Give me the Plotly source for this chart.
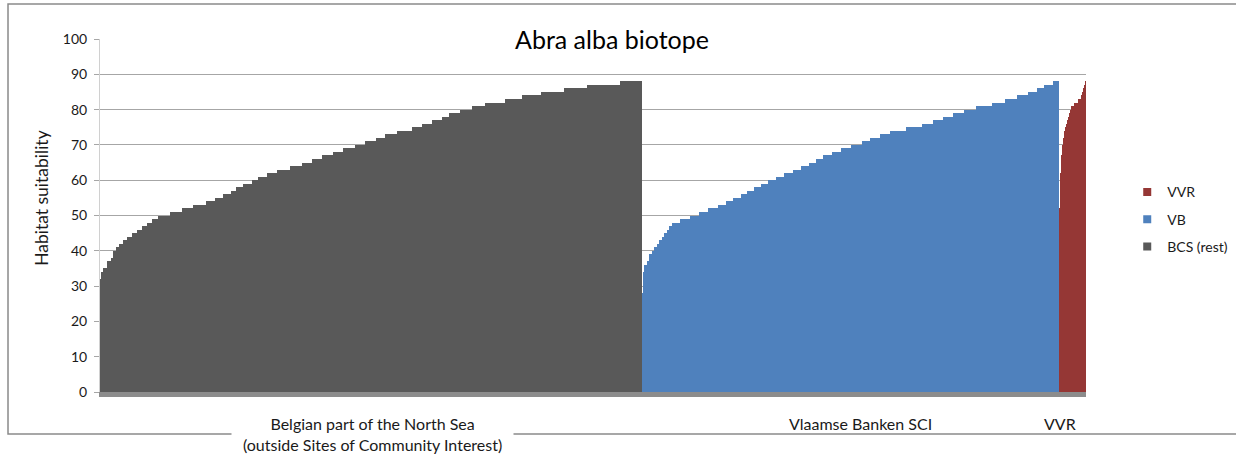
import numpy as np
import plotly.graph_objects as go

# ---- data: sorted habitat suitability values, run-length encoded (value, number of cells)
bcs_values = [32, 34, 35, 37, 38, 40, 41, 42, 43, 44, 45, 46, 47, 48, 49, 50, 51, 52, 53, 54,
              55, 56, 57, 58, 59, 60, 61, 62, 63, 64, 65, 66, 67, 68, 69, 70, 71, 72, 73, 74,
              75, 76, 77, 78, 79, 80, 81, 82, 83, 84, 85, 86, 87, 88]
bcs_counts = [1, 2, 4, 4, 2, 3, 3, 4, 4, 5, 5, 5, 5, 5, 6, 12, 12, 11, 13, 9,
              8, 8, 5, 7, 9, 6, 9, 10, 13, 12, 10, 10, 11, 10, 12, 10, 11, 9, 12, 15,
              10, 10, 10, 7, 11, 12, 13, 20, 17, 19, 23, 23, 33, 22]

vb_values = [28, 34, 36, 37, 39, 40, 41, 42, 43, 44, 45, 46, 47, 48, 49, 50, 51, 52, 53, 54,
             55, 56, 57, 58, 59, 60, 61, 62, 63, 64, 65, 66, 67, 68, 69, 70, 71, 72, 73, 74,
             75, 76, 77, 78, 79, 80, 81, 82, 83, 84, 85, 86, 87, 88]
vb_counts = [1, 1, 3, 2, 3, 2, 3, 2, 3, 2, 3, 2, 3, 8, 10, 9, 9, 10, 8, 7,
             8, 6, 7, 7, 7, 8, 8, 9, 8, 8, 7, 7, 9, 9, 10, 11, 8, 10, 10, 16,
             16, 11, 10, 10, 11, 12, 16, 13, 12, 11, 9, 7, 9, 6]

vvr_values = [52, 62, 67, 70, 72, 74, 75, 76, 77, 78, 79, 80, 81, 81, 81, 82, 82, 82, 82,
              83, 83, 83, 84, 85, 86, 87, 88]
vvr_counts = [1] * len(vvr_values)

series_names = ["BCS (rest)", "VB", "VVR"]
series_colors = ["#595959", "#4f81bd", "#953735"]
category_labels = ["Belgian part of the North Sea<br>(outside Sites of Community Interest)",
                   "Vlaamse Banken SCI", "VVR"]
y_ticks = [0, 10, 20, 30, 40, 50, 60, 70, 80, 90, 100]

FONT = "Lato"
TXT = "#1a1a1a"

fig = go.Figure()
offset = 0
for vals, cnts, name, col in zip([bcs_values, vb_values, vvr_values],
                                 [bcs_counts, vb_counts, vvr_counts],
                                 series_names, series_colors):
    cnts = np.array(cnts, dtype=float)
    lefts = offset + np.concatenate([[0], np.cumsum(cnts)[:-1]])
    fig.add_trace(go.Bar(x=lefts, y=vals, width=cnts, offset=0, name=name,
                         marker=dict(color=col, line=dict(width=0)),
                         showlegend=False, hoverinfo="skip"))
    offset += cnts.sum()
total = offset

# legend entries (order as in reference)
for name, col in zip(series_names[::-1], series_colors[::-1]):
    fig.add_trace(go.Scatter(x=[None], y=[None], mode="markers", name=name,
                             legendgroup=name,
                             marker=dict(symbol="square", size=8, color=col)))

annotations = []
# title with white background over gridline
annotations.append(dict(text="Abra alba biotope", x=512 / total, xref="paper", y=100, yref="y",
                        showarrow=False, bgcolor="white", borderpad=9,
                        font=dict(family=FONT, size=25, color="#000")))
# y axis title
annotations.append(dict(text="Habitat suitability", x=-0.0588, xref="paper", y=0.55, yref="paper",
                        textangle=-90, showarrow=False, xanchor="center", yanchor="middle",
                        font=dict(family=FONT, size=17.5, color=TXT)))
# category labels
cat_x = [272, 760, 960]
cat_y = [-0.119, -0.088, -0.088]
cat_bg = ["white", "rgba(0,0,0,0)", "rgba(0,0,0,0)"]
for lab, cx, cy, bg in zip(category_labels, cat_x, cat_y, cat_bg):
    annotations.append(dict(text=lab, x=cx / total, xref="paper", y=cy, yref="paper",
                            showarrow=False, bgcolor=bg, borderpad=11,
                            xanchor="center", yanchor="middle",
                            font=dict(family=FONT, size=16, color=TXT)))

fig.update_layout(
    width=1236, height=457,
    margin=dict(l=100, r=150, t=39, b=65, autoexpand=False),
    paper_bgcolor="white", plot_bgcolor="white",
    barmode="overlay", bargap=0, bargroupgap=0,
    showlegend=True,
    legend=dict(xref="container", yref="container", x=0.912, y=0.614,
                xanchor="left", yanchor="top",
                font=dict(family=FONT, size=14, color=TXT),
                tracegroupgap=6, bgcolor="rgba(0,0,0,0)"),
    xaxis=dict(range=[0, total], showticklabels=False, ticks="", showgrid=False,
               zeroline=False, showline=True, linecolor="#8c8c8c", linewidth=5),
    yaxis=dict(range=[0, 100], tickvals=y_ticks, ticks="outside", ticklen=5,
               tickcolor="#a6a6a6", showgrid=True, gridcolor="#a6a6a6", gridwidth=1,
               zeroline=False, showline=True, linecolor="#d0d0d0", linewidth=1,
               tickfont=dict(family=FONT, size=14, color=TXT), ticklabelstandoff=4),
    annotations=annotations,
    shapes=[dict(type="rect", xref="paper", yref="paper", x0=-0.0933, x1=1.16,
                 y0=-0.119, y1=1.099, line=dict(color="#8a8a8a", width=1.5),
                 fillcolor="rgba(0,0,0,0)", layer="above")],
)

fig.write_html("out.html", config={"displayModeBar": False},
               post_script="document.body.style.margin='0';document.body.style.overflow='hidden';")
